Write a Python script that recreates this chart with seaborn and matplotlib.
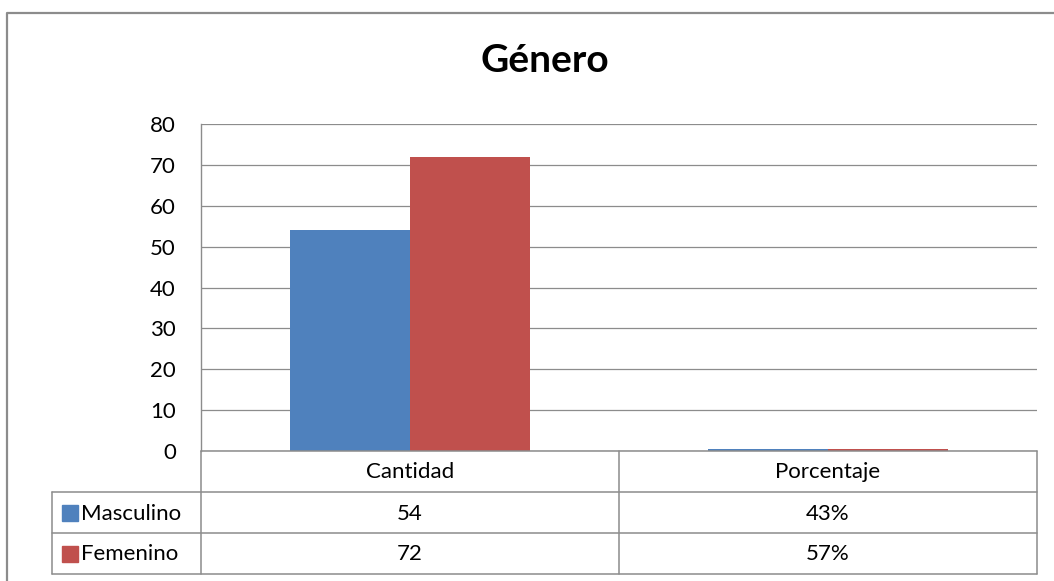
import matplotlib
matplotlib.use("Agg")
import matplotlib.pyplot as plt
from matplotlib.lines import Line2D
from matplotlib.patches import Rectangle
import pandas as pd
import seaborn as sns

# chart data
categorias = ["Cantidad", "Porcentaje"]
generos = ["Masculino", "Femenino"]
masculino = [54, 0.43]
femenino = [72, 0.57]
masculino_txt = ["54", "43%"]
femenino_txt = ["72", "57%"]
y_ticks = [0, 10, 20, 30, 40, 50, 60, 70, 80]
colores = ["#4F81BD", "#C0504D"]

W, H = 1054, 581
GRIS = "#8C8C8C"
TXT = 16

sns.set_style("white")
plt.rcParams["font.family"] = ["Lato", "DejaVu Sans"]
plt.rcParams["text.color"] = "black"
plt.rcParams["ytick.color"] = "black"

df = pd.DataFrame({
    "categoria": categorias * 2,
    "valor": masculino + femenino,
    "genero": [generos[0]] * 2 + [generos[1]] * 2,
})

fig = plt.figure(figsize=(W / 100, H / 100), dpi=100)


def px(x, y):
    """Pixel coords (top-left origin) to figure fraction."""
    return x / W, 1 - y / H


# plot area
left, top, right, bottom = 201, 124, 1037, 451
ax = fig.add_axes([left / W, 1 - bottom / H, (right - left) / W, (bottom - top) / H])
sns.barplot(data=df, x="categoria", y="valor", hue="genero", hue_order=generos,
            palette=colores, width=0.572, saturation=1, legend=False,
            linewidth=0, ax=ax)
ax.set_xlim(-0.5, 1.5)
ax.set_ylim(0, 80)
ax.set_yticks(y_ticks)
ax.set_yticklabels([str(t) for t in y_ticks], fontsize=TXT)
ax.set_xticks([])
ax.set_xlabel("")
ax.set_ylabel("")
ax.tick_params(axis="y", length=0, pad=18)
ax.yaxis.grid(True, color=GRIS, linewidth=0.9)
ax.set_axisbelow(True)
for s in ["top", "right", "bottom"]:
    ax.spines[s].set_visible(False)
ax.spines["left"].set_color(GRIS)
ax.spines["left"].set_linewidth(1.0)


def hline(x0, x1, y):
    fig.add_artist(Line2D([x0 / W, x1 / W], [1 - y / H, 1 - y / H], color=GRIS, lw=1.1))


def vline(x, y0, y1):
    fig.add_artist(Line2D([x / W, x / W], [1 - y0 / H, 1 - y1 / H], color=GRIS, lw=1.1))


# data table
mid = (left + right) / 2
tab_left = 52
rows_y = [451, 492, 533, 574]
hline(left, right, rows_y[0])
for y in rows_y[1:]:
    hline(tab_left, right, y)
vline(left, rows_y[0], rows_y[3])
vline(mid, rows_y[0], rows_y[3])
vline(right, rows_y[0], rows_y[3])
vline(tab_left, rows_y[1], rows_y[3])

col_x = [(left + mid) / 2, (mid + right) / 2]
for i, cat in enumerate(categorias):
    fig.text(*px(col_x[i], (rows_y[0] + rows_y[1]) / 2 + 1), cat,
             ha="center", va="center", fontsize=TXT)

for r, (nombre, textos) in enumerate(zip(generos, [masculino_txt, femenino_txt])):
    yc = (rows_y[r + 1] + rows_y[r + 2]) / 2
    fig.add_artist(Rectangle(px(62, yc + 8), 16 / W, 16 / H, color=colores[r],
                             transform=fig.transFigure))
    fig.text(*px(81, yc + 1), nombre, ha="left", va="center", fontsize=TXT)
    for i, t in enumerate(textos):
        fig.text(*px(col_x[i], yc + 1), t, ha="center", va="center", fontsize=TXT)

# chart border (cropped on right/bottom)
fig.add_artist(Line2D([6.5 / W, 6.5 / W, 1.0], [0.0, 1 - 12.5 / H, 1 - 12.5 / H],
                      color=GRIS, lw=1.6))

fig.text(*px(545, 60), "Género", ha="center", va="center",
         fontsize=28, fontweight="bold")

fig.savefig("out.png", dpi=100)
